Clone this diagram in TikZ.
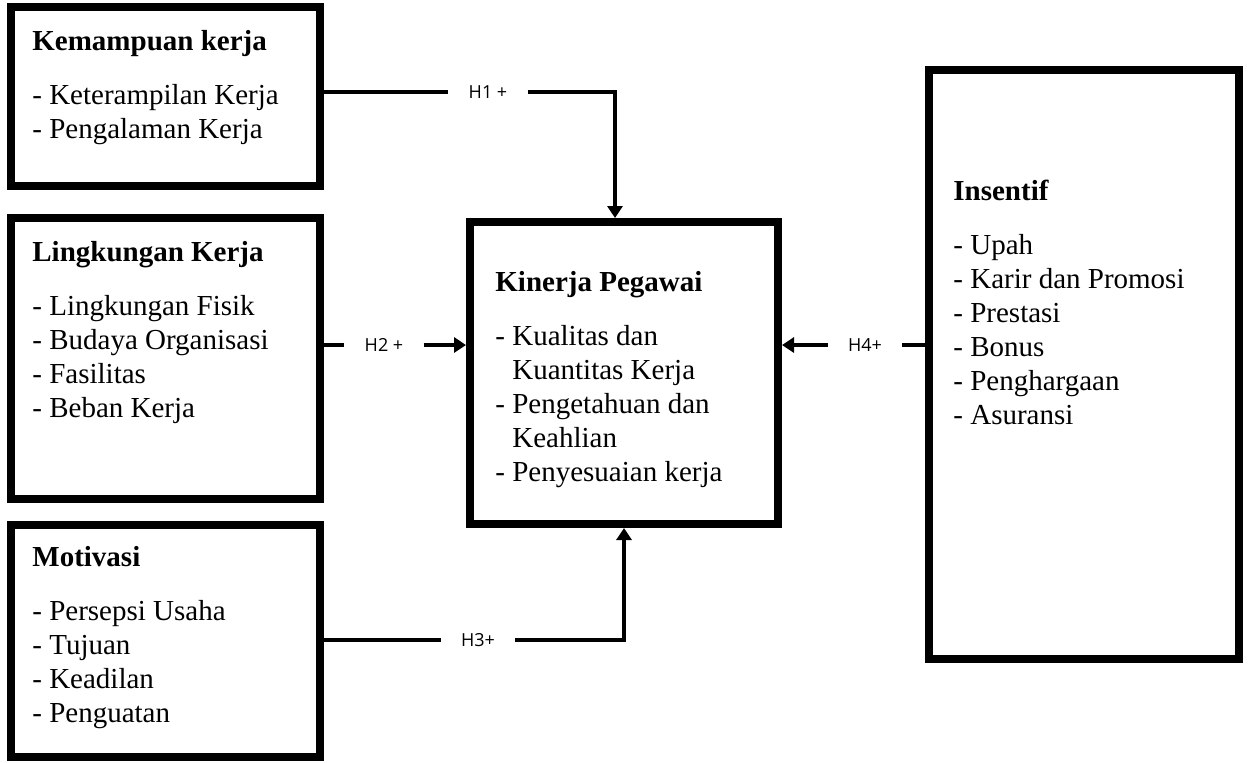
\documentclass[tikz,border=0pt]{standalone}
\usepackage{fontspec}
\setmainfont{Liberation Serif}
\newfontfamily\hypfont{Open Sans}
\usetikzlibrary{positioning,fit,calc,arrows.meta}
\tikzset{
box/.style={draw,line width=4pt,inner sep=0pt},
txt/.style={anchor=north west,align=left,inner sep=0pt,font=\fontsize{14.5}{17}\selectfont},
hyp/.style={inner ysep=0pt,inner xsep=10pt,font=\hypfont\fontsize{9}{11}\selectfont},
link/.style={line width=2pt},
}

\begin{document}
\begin{tikzpicture}[x=0.5pt,y=-0.5pt,>={Triangle[length=6pt,width=7.5pt]}]
	\useasboundingbox (0,0) rectangle (1251,762);

	% variables
	\node[box,fit={(11,7) (320,186)}] (kemampuan) {};
	\node[box,fit={(11,218) (320,499)}] (lingkungan) {};
	\node[box,fit={(11,525) (320,757)}] (motivasi) {};
	\node[box,fit={(470,222) (778,524)}] (kinerja) {};
	\node[box,fit={(929,70) (1239,659)}] (insentif) {};

	\node[txt] (kemampuan-t) at (32,30) {\textbf{Kemampuan kerja}\\[10pt]
		- Keterampilan Kerja\\ - Pengalaman Kerja};
	\node[txt] (lingkungan-t) at (32,241) {\textbf{Lingkungan Kerja}\\[10pt]
		- Lingkungan Fisik\\ - Budaya Organisasi\\ - Fasilitas\\ - Beban Kerja};
	\node[txt] (motivasi-t) at (32,546) {\textbf{Motivasi}\\[10pt]
		- Persepsi Usaha\\ - Tujuan\\ - Keadilan\\ - Penguatan};
	\node[txt] (kinerja-t) at (495,271) {\textbf{Kinerja Pegawai}\\[10pt]
		- Kualitas dan\\ \hphantom{-} Kuantitas Kerja\\ - Pengetahuan dan\\
		\hphantom{-} Keahlian\\ - Penyesuaian kerja};
	\node[txt] (insentif-t) at (953,180) {\textbf{Insentif}\\[10pt]
		- Upah\\ - Karir dan Promosi\\ - Prestasi\\ - Bonus\\ - Penghargaan\\ - Asuransi};

	% hypotheses
	\node[hyp] (h1) at (488,92) {H1 +};
	\node[hyp] (h2) at (384,345) {H2 +};
	\node[hyp] (h3) at (478,640) {H3+};
	\node[hyp] (h4) at (865,345) {H4+};
	\coordinate (c1) at (615,92);

	\draw[link] (kemampuan.east |- h1) -- (h1.west);
	\draw[link,->] (h1.east) -- (c1) -- (c1 |- kinerja.north);
	\draw[link] (lingkungan.east |- h2) -- (h2.west);
	\draw[link,->] (h2.east) -- (h2 -| kinerja.west);
	\draw[link] (motivasi.east |- h3) -- (h3.west);
	\draw[link,->] (h3.east) -| (kinerja.south);
	\draw[link] (insentif.west |- h4) -- (h4.east);
	\draw[link,->] (h4.west) -- (h4 -| kinerja.east);
\end{tikzpicture}
\end{document}
